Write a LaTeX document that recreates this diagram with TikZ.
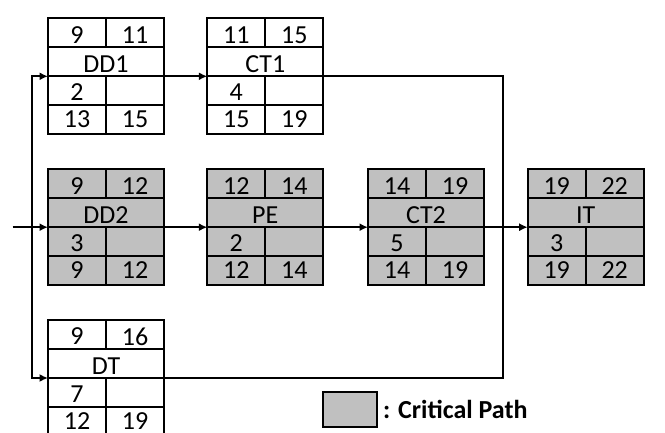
\documentclass[tikz,border=0pt]{standalone}
\usepackage{fontspec}
\setmainfont{Carlito}
\usetikzlibrary{arrows.meta}

\definecolor{critgray}{RGB}{192,192,192}

\tikzset{
  actbox/.style={draw, line width=1.9pt, minimum width=116pt, minimum height=116pt,
    inner sep=0pt, outer sep=0pt},
  critical/.style={fill=critgray},
  cellline/.style={line width=1.9pt},
  celltext/.style={font=\fontsize{26}{30}\selectfont, inner sep=0pt},
  link/.style={line width=1.6pt, -{Latex[length=8.5pt,width=8pt]}},
  plainlink/.style={line width=1.6pt},
}

% #1 name, #2 style, #3 centre, #4 ES, #5 EF, #6 label, #7 duration, #8 LS, #9 LF
\newcommand{\activity}[9]{
  \node[actbox,#2] (#1) at (#3) {};
  \draw[cellline]
    ([yshift=29pt]#1.west) -- ([yshift=29pt]#1.east)
    (#1.west) -- (#1.east)
    ([yshift=-29pt]#1.west) -- ([yshift=-29pt]#1.east)
    (#1.north) -- ([yshift=29pt]#1.center)
    (#1.center) -- (#1.south);
  \node[celltext] (#1-es)  at ([xshift=-29pt,yshift=41.5pt]#1.center) {#4};
  \node[celltext] (#1-ef)  at ([xshift=29pt,yshift=41.5pt]#1.center)  {#5};
  \node[celltext] (#1-lab) at ([yshift=12pt]#1.center)                {#6};
  \node[celltext] (#1-dur) at ([xshift=-29pt,yshift=-16pt]#1.center)  {#7};
  \node[celltext] (#1-ls)  at ([xshift=-29pt,yshift=-43pt]#1.center)  {#8};
  \node[celltext] (#1-lf)  at ([xshift=29pt,yshift=-43pt]#1.center)   {#9};
}

\begin{document}
\begin{tikzpicture}[x=1pt,y=1pt]
  \clip (0,0) rectangle (665,-433);

  % ACTIVITIES
  \activity{dd1}{}{106,-76.3}{9}{11}{DD1}{2}{13}{15}
  \activity{ct1}{}{265.3,-76.3}{11}{15}{CT1}{4}{15}{19}
  \activity{dd2}{critical}{106,-227.2}{9}{12}{DD2}{3}{9}{12}
  \activity{pe}{critical}{265.3,-227.2}{12}{14}{PE}{2}{12}{14}
  \activity{ct2}{critical}{426,-227.2}{14}{19}{CT2}{5}{14}{19}
  \activity{it}{critical}{585.7,-227.2}{19}{22}{IT}{3}{19}{22}
  \activity{dt}{}{106,-378}{9}{16}{DT}{7}{12}{19}

  % ARROWS
  \coordinate (start) at (12.5,-227.2);
  \coordinate (split) at (32,0);
  \coordinate (merge) at (502.7,0);

  \draw[link] (start) -- (dd2.west);
  \draw[link] (split |- dd2.west) |- (dd1.west);
  \draw[link] (split |- dd2.west) |- (dt.west);

  \draw[link] (dd1.east) -- (ct1.west);
  \draw[link] (dd2.east) -- (pe.west);
  \draw[link] (pe.east) -- (ct2.west);
  \draw[link] (ct2.east) -- (it.west);

  \draw[plainlink] (ct1.east) -| (merge |- dt.east) -- (dt.east);

  % LEGEND
  \node[draw, line width=1.9pt, fill=critgray, minimum width=54pt, minimum height=35.6pt,
    inner sep=0pt, outer sep=0pt] (legendbox) at (350.3,-409.5) {};
  \node[anchor=west, inner sep=0pt, font=\bfseries\fontsize{26}{30}\selectfont]
    (legendtext) at ([xshift=5.7pt]legendbox.east) {: Critical Path};
\end{tikzpicture}
\end{document}
